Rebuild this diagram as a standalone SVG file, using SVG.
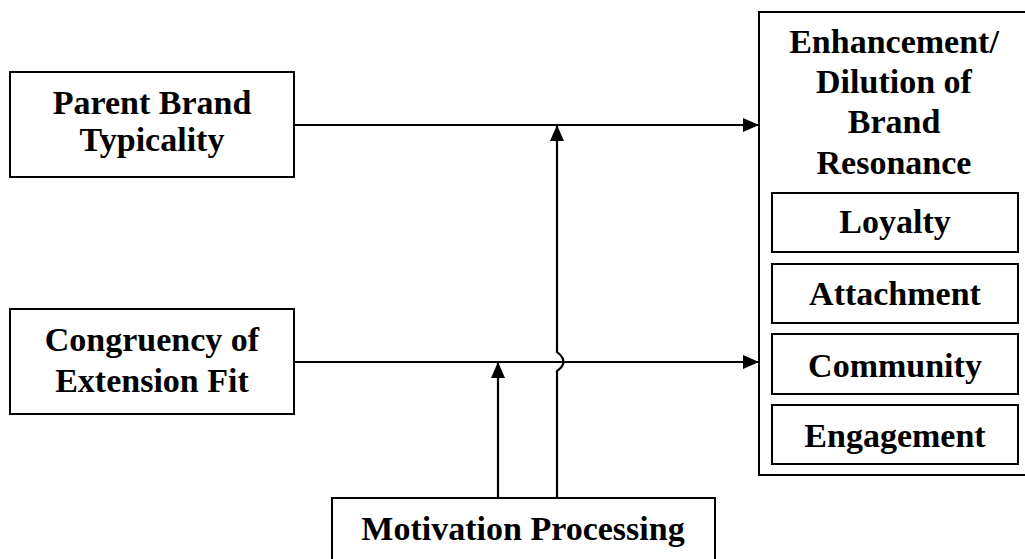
<svg xmlns="http://www.w3.org/2000/svg" width="1025" height="559" viewBox="0 0 1025 559">
<style>
.box{fill:#fff;stroke:#000;stroke-width:2}
.t{font-family:"Liberation Serif","Times New Roman",serif;font-weight:bold;font-size:34px;fill:#000;text-anchor:middle}
.c{fill:none;stroke:#000;stroke-width:2.2}
</style>
<defs>
<marker id="ah" markerWidth="16" markerHeight="14" refX="16" refY="7" orient="auto" markerUnits="userSpaceOnUse">
<path d="M0,0 L16,7 L0,14 Z" fill="#000"/>
</marker>
</defs>
<rect width="1025" height="559" fill="#fff"/>
<g id="parent">
<rect class="box" x="10" y="72" width="284" height="105"/>
<text class="t" x="152" y="114">Parent Brand</text>
<text class="t" x="152" y="151">Typicality</text>
</g>
<g id="congruency">
<rect class="box" x="10" y="309" width="284" height="105"/>
<text class="t" x="152" y="351">Congruency of</text>
<text class="t" x="152" y="392">Extension Fit</text>
</g>
<g id="motivation">
<rect class="box" x="332" y="498" width="383" height="80"/>
<text class="t" x="523" y="540">Motivation Processing</text>
</g>
<g id="resonance">
<rect class="box" x="759" y="12" width="280" height="463"/>
<text class="t" x="894" y="53">Enhancement/</text>
<text class="t" x="894" y="93">Dilution of</text>
<text class="t" x="894" y="133">Brand</text>
<text class="t" x="894" y="174">Resonance</text>
</g>
<g id="loyalty">
<rect class="box" x="772" y="193" width="246" height="59"/>
<text class="t" x="895" y="233">Loyalty</text>
</g>
<g id="attachment">
<rect class="box" x="772" y="264" width="246" height="59"/>
<text class="t" x="895" y="305">Attachment</text>
</g>
<g id="community">
<rect class="box" x="772" y="334" width="246" height="60"/>
<text class="t" x="895" y="377">Community</text>
</g>
<g id="engagement">
<rect class="box" x="772" y="405" width="246" height="59"/>
<text class="t" x="895" y="447">Engagement</text>
</g>
<g id="connectors">
<line class="c" x1="294" y1="125" x2="759" y2="125" marker-end="url(#ah)"/>
<line class="c" x1="294" y1="362" x2="759" y2="362" marker-end="url(#ah)"/>
<line class="c" x1="498" y1="498" x2="498" y2="362" marker-end="url(#ah)"/>
<path class="c" d="M557,498 L557,371 Q570,362 557,352 L557,125" marker-end="url(#ah)"/>
</g>
</svg>
